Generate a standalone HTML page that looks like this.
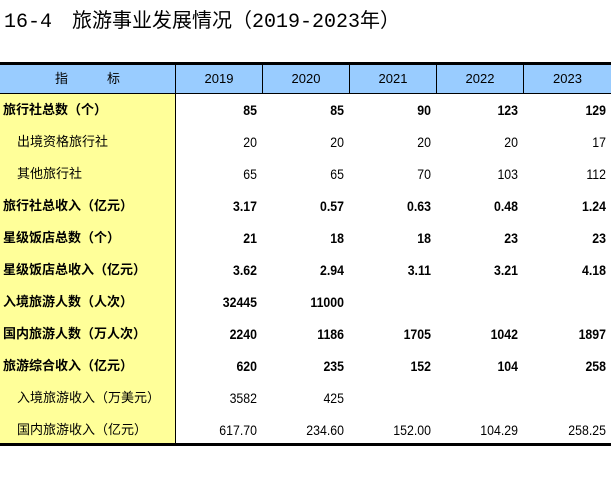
<!DOCTYPE html>
<html><head><meta charset="utf-8"><style>
body{margin:0;width:611px;height:478px;background:#fff;position:relative;overflow:hidden;font-family:"Liberation Sans","Noto Sans CJK SC",sans-serif;}
.t{position:absolute;left:4px;top:4px;font-size:20px;color:#000;letter-spacing:0px;white-space:nowrap;font-family:"Liberation Mono","Noto Sans CJK SC",monospace}
.top{position:absolute;left:0;top:62px;width:611px;height:3px;background:#000}
.bot{position:absolute;left:0;top:443px;width:611px;height:3px;background:#000}
.hdr{position:absolute;left:0;top:65px;width:611px;height:28px;background:#99ccff;border-bottom:1px solid #000}
.yel{position:absolute;left:0;top:94px;width:175px;height:349px;background:#ffff99}
.v{position:absolute;width:1px;background:#000}
.h{position:absolute;top:65px;height:28px;line-height:28px;text-align:center;font-size:13px}
.r{position:absolute;height:32px;line-height:32px;font-size:13px;text-align:right}
.n{font-size:14px;transform:scaleX(0.88);transform-origin:right center}
.b{font-weight:bold}
</style></head><body>
<div class="t">16-4　旅游事业发展情况（2019-2023年）</div>
<div class="hdr"></div>
<div class="yel"></div>
<div class="top"></div>
<div class="bot"></div>
<div class="v" style="left:175px;top:65px;height:378px"></div>
<div class="v" style="left:262px;top:65px;height:28px"></div>
<div class="v" style="left:349px;top:65px;height:28px"></div>
<div class="v" style="left:436px;top:65px;height:28px"></div>
<div class="v" style="left:523px;top:65px;height:28px"></div>
<div class="h" style="left:0;width:175px">指　　　标</div>
<div class="h" style="left:176px;width:86px">2019</div>
<div class="h" style="left:263px;width:86px">2020</div>
<div class="h" style="left:350px;width:86px">2021</div>
<div class="h" style="left:437px;width:86px">2022</div>
<div class="h" style="left:524px;width:87px">2023</div>
<div id="rows"></div>
<script>
var d=[["旅行社总数（个）",1,["85","85","90","123","129"]],
["出境资格旅行社",0,["20","20","20","20","17"]],
["其他旅行社",0,["65","65","70","103","112"]],
["旅行社总收入（亿元）",1,["3.17","0.57","0.63","0.48","1.24"]],
["星级饭店总数（个）",1,["21","18","18","23","23"]],
["星级饭店总收入（亿元）",1,["3.62","2.94","3.11","3.21","4.18"]],
["入境旅游人数（人次）",1,["32445","11000","","",""]],
["国内旅游人数（万人次）",1,["2240","1186","1705","1042","1897"]],
["旅游综合收入（亿元）",1,["620","235","152","104","258"]],
["入境旅游收入（万美元）",0,["3582","425","","",""]],
["国内旅游收入（亿元）",0,["617.70","234.60","152.00","104.29","258.25"]]];
var rx=[257,344,431,518,606],h="";
d.forEach(function(r,i){var y=94+i*32;var b=r[1]?" b":"";
h+='<div class="r'+b+'" style="left:'+(r[1]?3:17)+'px;top:'+y+'px;text-align:left">'+r[0]+'</div>';
r[2].forEach(function(v,j){h+='<div class="r n'+b+'" style="left:'+(rx[j]-80)+'px;width:80px;top:'+y+'px">'+v+'</div>';});});
document.getElementById("rows").innerHTML=h;
</script>
</body></html>
